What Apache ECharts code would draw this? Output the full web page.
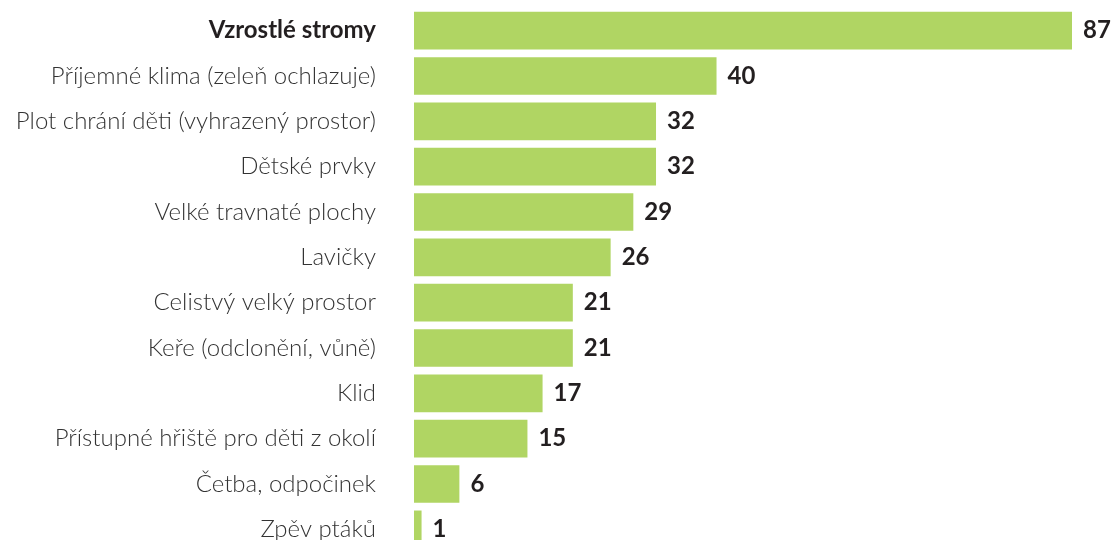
<!DOCTYPE html>
<html>
<head>
<meta charset="utf-8">
<script src="https://cdn.jsdelivr.net/npm/echarts@6/dist/echarts.min.js"></script>
<style>
html,body{margin:0;padding:0;background:#fff;}
#chart{width:1118px;height:540px;}
</style>
</head>
<body>
<div id="chart"></div>
<script>
const categories = [
  "Vzrostlé stromy",
  "Příjemné klima (zeleň ochlazuje)",
  "Plot chrání děti (vyhrazený prostor)",
  "Dětské prvky",
  "Velké travnaté plochy",
  "Lavičky",
  "Celistvý velký prostor",
  "Keře (odclonění, vůně)",
  "Klid",
  "Přístupné hřiště pro děti z okolí",
  "Četba, odpočinek",
  "Zpěv ptáků"
];
const values = [87, 40, 32, 32, 29, 26, 21, 21, 17, 15, 6, 1];

const chart = echarts.init(document.getElementById('chart'), null, {renderer: 'canvas'});
chart.setOption({
  animation: false,
  backgroundColor: '#ffffff',
  grid: {left: 414, top: 8, width: 658, height: 544, containLabel: false, outerBoundsMode: 'none'},
  xAxis: {
    type: 'value', min: 0, max: 87, show: false
  },
  yAxis: {
    type: 'category', data: categories, inverse: true,
    axisLine: {show: false}, axisTick: {show: false}, splitLine: {show: false},
    axisLabel: {
      margin: 38,
      fontFamily: 'Lato',
      fontSize: 24,
      fontWeight: 300,
      color: '#333333',
      formatter: function (v, i) { return i === 0 ? '{b|' + v + '}' : v; },
      rich: {
        b: {fontFamily: 'Lato', fontSize: 24, fontWeight: 'bold', color: '#231f20'}
      }
    }
  },
  series: [{
    type: 'bar',
    data: values,
    barCategoryGap: '17%',
    itemStyle: {color: '#b0d563'},
    label: {
      show: true, position: 'right', distance: 11,
      fontFamily: 'Lato', fontSize: 24, fontWeight: 'bold', color: '#231f20'
    }
  }]
});
</script>
</body>
</html>
